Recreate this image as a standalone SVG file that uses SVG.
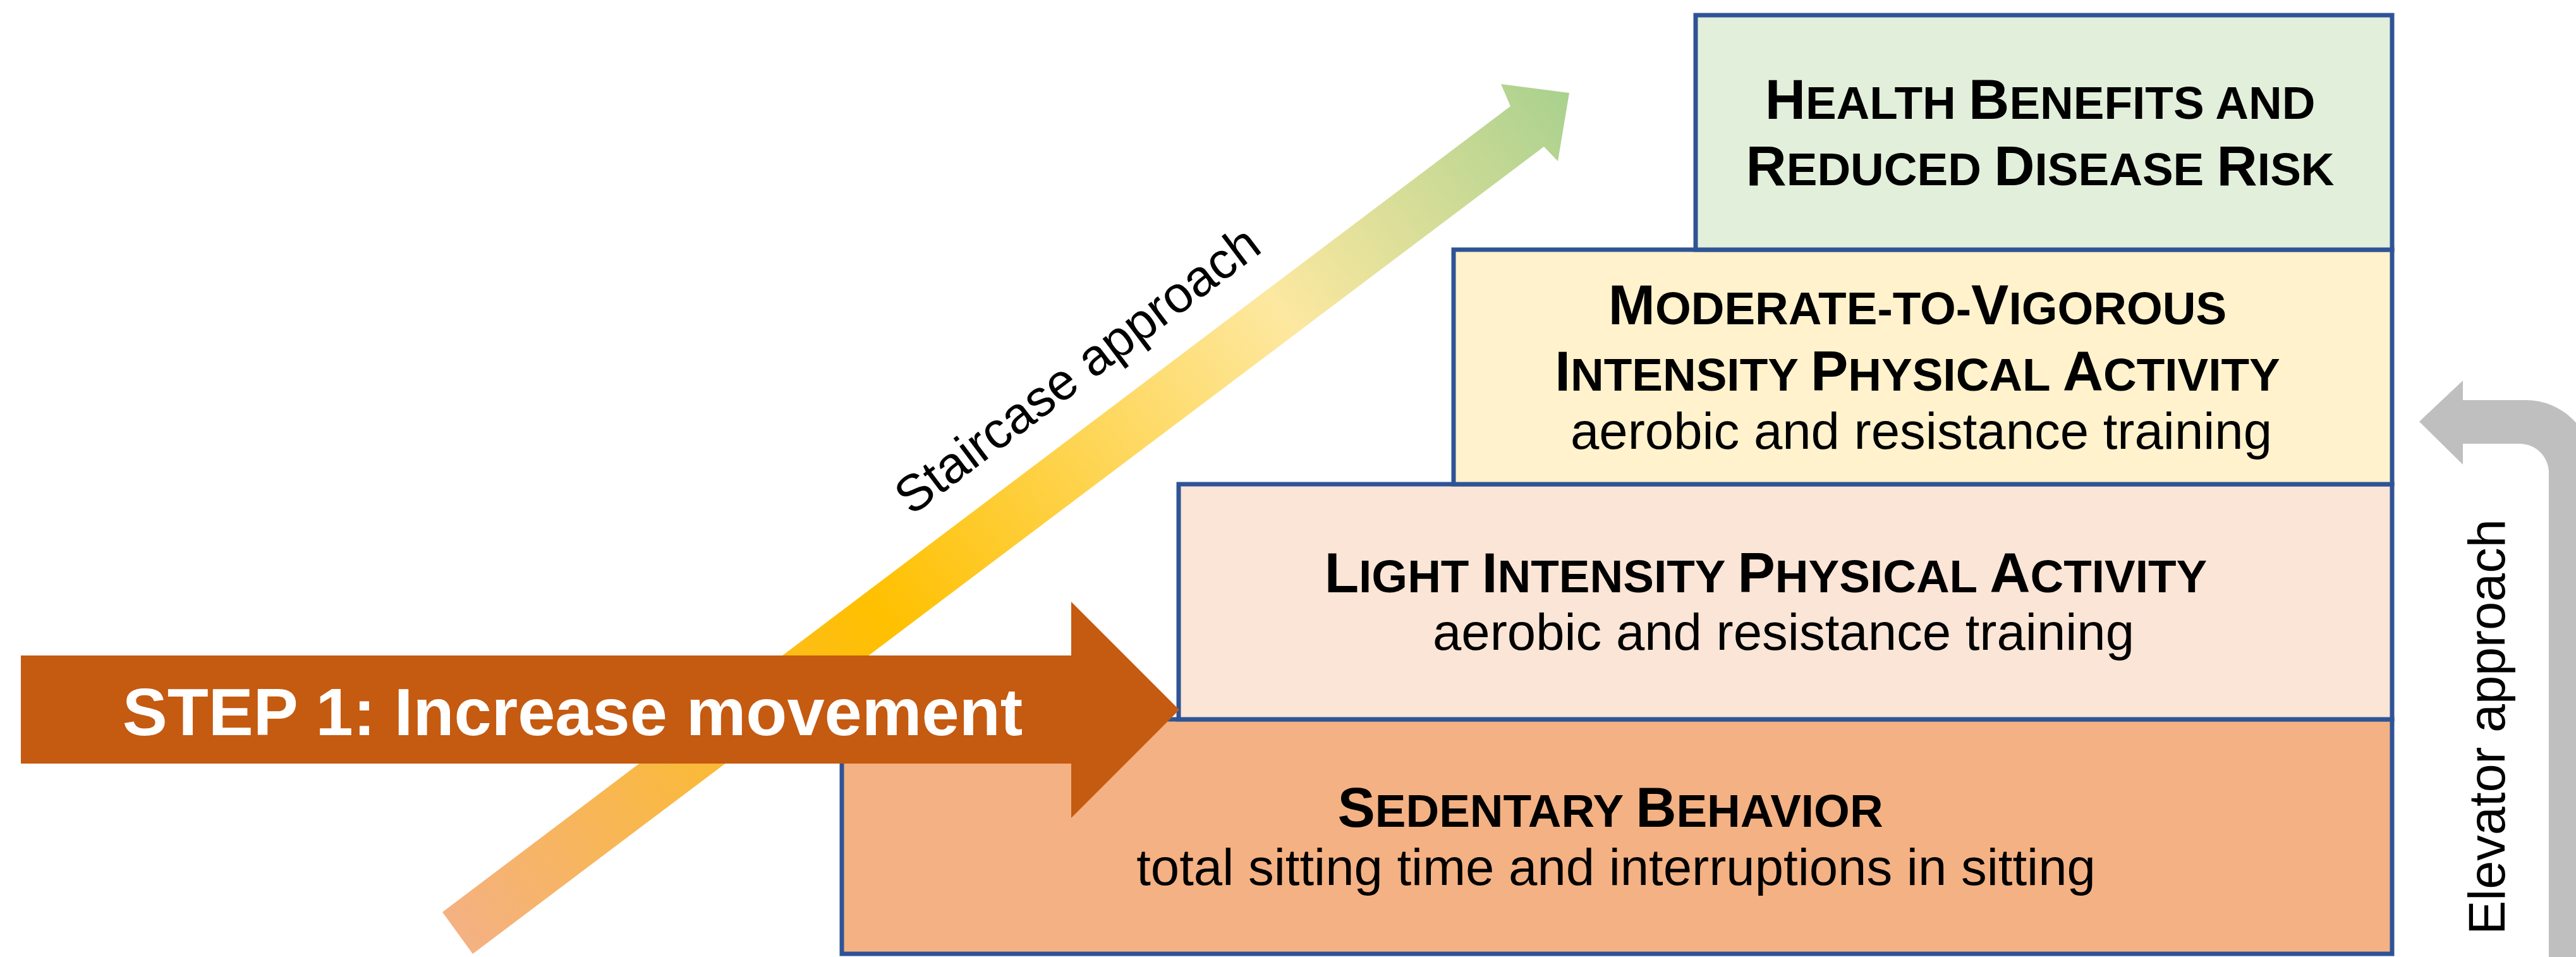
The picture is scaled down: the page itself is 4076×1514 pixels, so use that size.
<svg xmlns="http://www.w3.org/2000/svg" width="4076" height="1514" viewBox="0 0 4076 1514">
  <defs>
    <linearGradient id="stairGrad" gradientUnits="userSpaceOnUse" x1="724" y1="1476" x2="2483" y2="147">
      <stop offset="0" stop-color="#F4B183"/>
      <stop offset="0.38" stop-color="#FFC000"/>
      <stop offset="0.74" stop-color="#FDE8A0"/>
      <stop offset="1" stop-color="#A9D18E"/>
    </linearGradient>
    <style>
      .step { stroke: #2F5496; stroke-width: 7; }
      .title { font-family: "Liberation Sans", Arial, sans-serif; font-weight: bold; font-size: 73px; fill: #000; text-anchor: middle; }
      .title .cap { font-size: 89px; }
      .sub { font-family: "Liberation Sans", Arial, sans-serif; font-size: 81.5px; fill: #000; text-anchor: middle; }
      .label { font-family: "Liberation Sans", Arial, sans-serif; font-size: 81px; fill: #000; text-anchor: middle; }
      .banner { font-family: "Liberation Sans", Arial, sans-serif; font-weight: bold; font-size: 106.5px; fill: #fff; text-anchor: middle; }
    </style>
  </defs>

  <rect width="4076" height="1514" fill="#fff"/>

  <g id="connectors">
    <!-- staircase route: diagonal gradient arrow -->
    <g id="staircase-arrow">
      <polygon points="700,1443 748,1509 2443,232 2465,255 2483,147 2375,133 2390,168" fill="url(#stairGrad)"/>
      <text class="label" transform="translate(1721,607) rotate(-37)">Staircase approach</text>
    </g>
    <!-- elevator route: bent arrow on the right -->
    <g id="elevator-arrow">
      <path d="M3828,667 L3897,602 L3897,633 L3997,633 A105,105 0 0 1 4102,738 L4102,1520 L4033,1520 L4033,748 A46,46 0 0 0 3987,702 L3897,702 L3897,735 Z" fill="#BFBFBF"/>
      <text class="label" transform="translate(3963,1150) rotate(-90)">Elevator approach</text>
    </g>
  </g>

  <g id="box-sedentary">
    <rect class="step" x="1332" y="1138" width="2453" height="371" fill="#F4B183"/>
    <text class="title" x="2548" y="1308"><tspan class="cap">S</tspan>EDENTARY <tspan class="cap">B</tspan>EHAVIOR</text>
    <text class="sub" x="2557" y="1400">total sitting time and interruptions in sitting</text>
  </g>

  <g id="box-light">
    <rect class="step" x="1865" y="766" width="1920" height="372" fill="#FBE5D6"/>
    <text class="title" x="2794" y="937"><tspan class="cap">L</tspan>IGHT <tspan class="cap">I</tspan>NTENSITY <tspan class="cap">P</tspan>HYSICAL <tspan class="cap">A</tspan>CTIVITY</text>
    <text class="sub" x="2822" y="1028">aerobic and resistance training</text>
  </g>

  <g id="box-mvpa">
    <rect class="step" x="2300" y="395" width="1485" height="371" fill="#FFF2CC"/>
    <text class="title" x="3034" y="513"><tspan class="cap">M</tspan>ODERATE-TO-<tspan class="cap">V</tspan>IGOROUS</text>
    <text class="title" x="3034" y="618"><tspan class="cap">I</tspan>NTENSITY <tspan class="cap">P</tspan>HYSICAL <tspan class="cap">A</tspan>CTIVITY</text>
    <text class="sub" x="3040" y="710">aerobic and resistance training</text>
  </g>

  <g id="box-health">
    <rect class="step" x="2683" y="24" width="1102" height="371" fill="#E2EFDA"/>
    <text class="title" x="3228" y="188"><tspan class="cap">H</tspan>EALTH <tspan class="cap">B</tspan>ENEFITS AND</text>
    <text class="title" x="3228" y="293"><tspan class="cap">R</tspan>EDUCED <tspan class="cap">D</tspan>ISEASE <tspan class="cap">R</tspan>ISK</text>
  </g>

  <g id="step1-arrow">
    <polygon points="33,1037 1695,1037 1695,952 1866,1123 1695,1294 1695,1208 33,1208" fill="#C55A11"/>
    <text class="banner" x="906" y="1163">STEP 1: Increase movement</text>
  </g>
</svg>
